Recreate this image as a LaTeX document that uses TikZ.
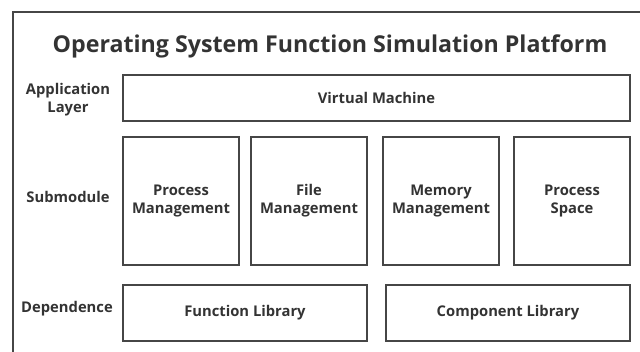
\documentclass[tikz,border=0pt]{standalone}
\usepackage{fontspec}
\setmainfont{Open Sans}
\usepackage{tikz}
\usetikzlibrary{positioning}
\definecolor{osline}{HTML}{464646}
\definecolor{ostext}{HTML}{333333}
\tikzset{
  osbox/.style={
    rectangle,
    draw=osline,
    line width=1pt,
    fill=white,
    align=center,
    text=ostext,
    font=\bfseries\fontsize{10.5}{12.8}\selectfont
  },
  oswide/.style={osbox, minimum width=12.675cm, minimum height=1.15cm},
  ossub/.style={osbox, minimum width=2.9cm, minimum height=3.2cm},
  oslib/.style={osbox, minimum width=6.1cm, minimum height=1.4cm},
  oslabel/.style={align=center, text=ostext, font=\bfseries\fontsize{10.5}{12.8}\selectfont},
  ostitle/.style={text=ostext, font=\bfseries\fontsize{16.5}{20}\selectfont}
}

\begin{document}
\begin{tikzpicture}[x=0.025cm, y=-0.025cm]
\useasboundingbox (0,0) rectangle (640,352);
\fill[white] (0,0) rectangle (640,352);
\draw[osline, line width=1pt] (13,357) -- (13,12) -- (645,12);
\node[ostitle] (title) at (330,46) {Operating System Function Simulation Platform};
\node[oslabel] (app) at (68,100) {Application\\Layer};
\node[oslabel] (sub) at (68,197) {Submodule};
\node[oslabel] (dep) at (67,309) {Dependence};
\node[oswide] (vm) at (376.5,98) {Virtual Machine};
\node[ossub] (pm) at (181,201) {Process\\Management};
\node[ossub] (fm) at (309,201) {File\\Management};
\node[ossub] (mm) at (441,201) {Memory\\Management};
\node[ossub] (ps) at (572,201) {Process\\Space};
\node[oslib] (fl) at (245,313) {Function Library};
\node[oslib] (cl) at (508,313) {Component Library};
\end{tikzpicture}
\end{document}
